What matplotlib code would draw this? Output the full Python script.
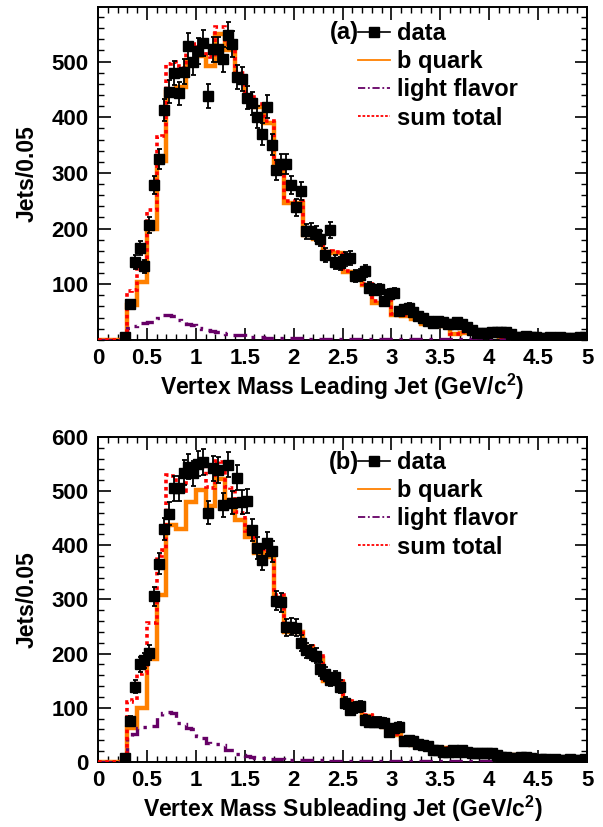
import numpy as np
import matplotlib
matplotlib.use("Agg")
import matplotlib.pyplot as plt
from matplotlib.lines import Line2D
from matplotlib.ticker import MultipleLocator

plt.rcParams['font.family'] = ['Liberation Sans', 'DejaVu Sans']
plt.rcParams['font.weight'] = 'bold'
plt.rcParams['mathtext.fontset'] = 'custom'
plt.rcParams['mathtext.rm'] = 'Liberation Sans:bold'
plt.rcParams['mathtext.default'] = 'rm'

nan = np.nan
# 100 bins of 0.05 from 0 to 5 GeV/c^2
edges = np.linspace(0, 5, 101)
centers = edges[:-1] + 0.025

# ---- (a) leading jet ----
b_lead = [0, 0, 0, 0, 0, 0, 62, 62, 104, 104,
          200, 200, 322, 322, 445, 445, 455, 455, 503, 503,
          510, 510, 492, 492, 549, 549, 520, 520, 473, 473,
          431, 431, 419, 419, 390, 390, 316, 316, 246, 246,
          246, 246, 189, 189, 182, 182, 158, 158, 156, 156,
          122, 122, 114, 114, 99, 99, 67, 67, 68, 68,
          45, 45, 43, 43, 38, 38, 28, 28, 26, 26,
          25, 25, 10, 10, 13, 13, 12, 12, 11, 11,
          10, 10, 5, 5, 5, 5, 4, 4, 4, 4,
          4, 4, 3, 3, 3, 3, 3, 3, 3, 3]
light_lead = [0, 0, 0, 0, 0, 0, 22, 25, 30, 31,
              32, 33, 40, 44, 45, 43, 36, 32, 28, 26,
              22, 20, 18, 16, 14, 12, 10, 9, 8, 8,
              6, 6, 5, 5, 4, 4, 4, 3, 3, 3,
              3, 3, 3, 2, 2, 2, 2, 2, 2, 2,
              2, 2, 2, 2, 2, 2, 2, 2, 2, 2,
              2, 2, 2, 2, 1, 1, 1, 1, 1, 1,
              1, 1, 1, 1, 1, 1, 1, 1, 1, 1,
              1, 1, 1, 1, 1, 1, 1, 1, 1, 1,
              1, 1, 1, 1, 1, 1, 1, 1, 1, 1]
sum_lead = [0, 0, 0, 0, 0, 0, 88, 90, 136, 137,
            233, 234, 364, 367, 495, 500, 492, 488, 531, 529,
            532, 530, 510, 508, 563, 562, 532, 530, 481, 480,
            437, 437, 424, 424, 394, 394, 320, 319, 249, 249,
            249, 249, 192, 192, 184, 184, 160, 160, 158, 158,
            124, 124, 116, 116, 101, 101, 69, 69, 70, 70,
            47, 47, 45, 45, 40, 39, 29, 29, 27, 27,
            26, 26, 11, 11, 14, 14, 13, 13, 12, 12,
            11, 11, 6, 6, 6, 6, 5, 5, 5, 5,
            5, 5, 4, 4, 4, 4, 4, 4, 4, 4]
data_lead = [nan, nan, nan, nan, nan, 5, 64, 140, 165, 132,
             207, 278, 325, 413, 446, 479, 443, 482, 528, 499,
             519, 534, 438, 522, 522, 504, 547, 531, 472, 469,
             435, 425, 400, 370, 419, 351, 305, 316, 316, 278,
             238, 267, 195, 196, 191, 182, 153, 198, 140, 138,
             145, 147, 115, 116, 124, 94, 90, 91, 69, 82,
             84, 52, 55, 58, 50, 43, 40, 34, 30, 34,
             32, 29, 29, 33, 29, 23, 17, 13, 12, 12,
             14, 14, 15, 14, 11, 5, 6, 7, 6, 5,
             4, 3, 5, 4, 5, 4, 3, 4, 5, 5]

# ---- (b) subleading jet ----
b_sub = [0, 0, 0, 0, 0, 0, 62, 62, 100, 100,
         191, 191, 308, 308, 438, 438, 431, 431, 480, 480,
         502, 502, 472, 472, 522, 522, 484, 484, 447, 447,
         416, 416, 385, 385, 378, 378, 303, 303, 240, 240,
         240, 240, 212, 212, 192, 192, 150, 150, 148, 148,
         110, 110, 100, 100, 85, 85, 68, 68, 65, 65,
         50, 50, 42, 42, 32, 32, 32, 32, 25, 25,
         25, 25, 20, 20, 20, 20, 17, 17, 17, 17,
         12, 12, 12, 12, 12, 12, 5, 5, 5, 5,
         5, 5, 5, 5, 4, 4, 4, 4, 4, 4]
light_sub = [0, 0, 0, 0, 0, 0, 48, 52, 62, 65,
             66, 66, 85, 90, 92, 90, 72, 70, 62, 60,
             48, 45, 35, 34, 33, 32, 23, 22, 14, 13,
             11, 10, 8, 8, 7, 6, 5, 5, 4, 4,
             4, 3, 3, 3, 3, 3, 3, 2, 2, 2,
             2, 2, 2, 2, 2, 2, 2, 2, 2, 2,
             2, 2, 2, 2, 2, 1, 1, 1, 1, 1,
             1, 1, 1, 1, 1, 1, 1, 1, 1, 1,
             1, 1, 1, 1, 1, 1, 1, 1, 1, 1,
             1, 1, 1, 1, 1, 1, 1, 1, 1, 1]
sum_sub = [0, 0, 0, 0, 0, 0, 110, 114, 162, 165,
           257, 257, 380, 392, 530, 528, 503, 501, 542, 540,
           550, 547, 507, 506, 555, 554, 507, 506, 461, 460,
           427, 426, 393, 393, 385, 384, 308, 308, 244, 244,
           244, 243, 215, 215, 195, 195, 153, 152, 150, 150,
           112, 112, 102, 102, 87, 87, 70, 70, 67, 67,
           52, 52, 44, 44, 34, 34, 34, 34, 26, 26,
           26, 26, 21, 21, 21, 21, 18, 18, 18, 18,
           13, 13, 13, 13, 13, 13, 6, 6, 6, 6,
           6, 6, 6, 6, 5, 5, 5, 5, 5, 5]
data_sub = [nan, nan, nan, nan, nan, 7, 76, 139, 180, 188,
            202, 306, 366, 430, 458, 505, 505, 534, 545, 533,
            551, 554, 460, 542, 539, 474, 549, 479, 525, 480,
            482, 428, 395, 373, 405, 389, 298, 295, 249, 250,
            248, 219, 206, 202, 196, 172, 162, 152, 156, 139,
            109, 96, 101, 103, 78, 73, 74, 74, 72, 56,
            62, 65, 38, 41, 38, 33, 31, 30, 22, 22,
            19, 19, 22, 19, 22, 19, 16, 17, 16, 16,
            17, 13, 10, 9, 7, 7, 9, 9, 7, 4,
            5, 5, 4, 5, 4, 4, 5, 4, 4, 5]

ORANGE = '#ff8000'
PURPLE = '#660066'
RED = '#ff0000'
FS_TICK = 16
FS_LAB = 16.5
FS_LEG = 17


def draw_panel(ax, data, bq, light, total, tag, xlabel, ymax, yticks, leg_y, tag_y):
    ax.stairs(bq, edges, color=ORANGE, lw=3.2, zorder=2)
    ax.stairs(light, edges, color=PURPLE, lw=2.4, ls=(0, (4, 2, 1, 2)), zorder=3)
    ax.stairs(total, edges, color=RED, lw=2.6, ls=(0, (1, 1)), zorder=4)
    d = np.array(data, dtype=float)
    ax.errorbar(centers, d, yerr=np.sqrt(d), fmt='s', color='black', ms=6.5,
                elinewidth=1.3, capsize=1.8, capthick=1.3, zorder=5)

    ax.set_xlim(0, 5)
    ax.set_ylim(0, ymax)
    ax.set_yticks(yticks)
    ax.xaxis.set_minor_locator(MultipleLocator(0.1))
    ax.yaxis.set_minor_locator(MultipleLocator(20))
    ax.set_xticks(np.arange(0, 5.01, 0.5))
    ax.set_xticklabels(['0', '0.5', '1', '1.5', '2', '2.5', '3', '3.5', '4', '4.5', '5'])
    ax.tick_params(which='both', direction='in', top=True, right=True, labelsize=FS_TICK)
    ax.tick_params(which='major', length=9, width=1.2)
    ax.tick_params(which='minor', length=4.5, width=1.0)
    ax.tick_params(axis='x', pad=6)
    ax.tick_params(axis='y', pad=7)
    for s in ax.spines.values():
        s.set_linewidth(1.4)

    ax.set_xlabel(xlabel, fontsize=FS_LAB, fontweight='bold', labelpad=2)
    ax.set_ylabel('Jets/0.05', fontsize=FS_LAB, fontweight='bold', labelpad=9)

    handles = [Line2D([], [], color='black', marker='s', ms=6.5, lw=1.2),
               Line2D([], [], color=ORANGE, lw=1.3),
               Line2D([], [], color=PURPLE, lw=1.3, ls=(0, (4, 1.5, 1, 1.5))),
               Line2D([], [], color=RED, lw=1.3, ls=(0, (1.5, 1)))]
    labels = ['data', 'b quark', 'light flavor', 'sum total']
    ax.legend(handles, labels, loc='upper left', bbox_to_anchor=(0.532, leg_y),
              frameon=False, fontsize=FS_LEG, handlelength=1.35, handletextpad=0.3,
              labelspacing=0.22, borderaxespad=0, borderpad=0)
    ax.text(0.533, tag_y, tag, transform=ax.transAxes, ha='right', va='center',
            fontsize=FS_LEG, fontweight='bold')


fig = plt.figure(figsize=(6.03, 8.27), dpi=100)
ax1 = fig.add_axes([0.1625, 0.589, 0.811, 0.4025])
ax2 = fig.add_axes([0.1625, 0.0786, 0.811, 0.393])

draw_panel(ax1, data_lead, b_lead, light_lead, sum_lead, '(a)',
           'Vertex Mass Leading Jet (GeV/c$^{2}$)', 598, [100, 200, 300, 400, 500],
           0.955, 0.922)
draw_panel(ax2, data_sub, b_sub, light_sub, sum_sub, '(b)',
           'Vertex Mass Subleading Jet (GeV/c$^{2}$)', 600, [0, 100, 200, 300, 400, 500, 600],
           0.957, 0.923)

fig.savefig('out.png', dpi=100)
